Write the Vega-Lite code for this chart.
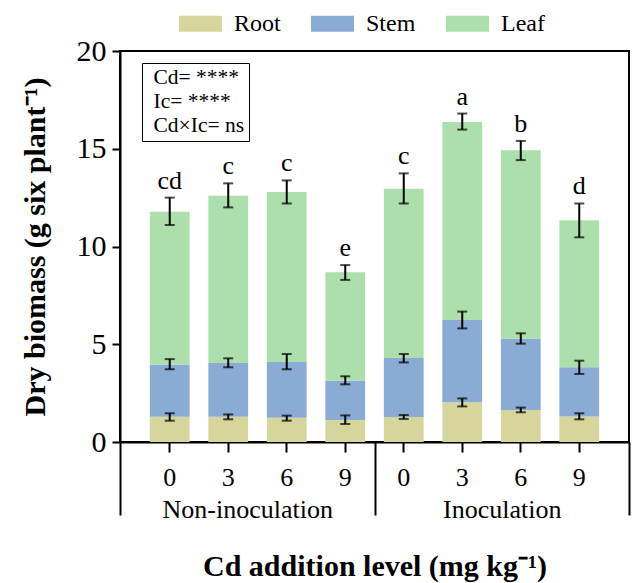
{
  "$schema": "https://vega.github.io/schema/vega-lite/v6.json",
  "autosize": {"type": "none"},
  "padding": {"left": 120, "top": 51, "right": 4, "bottom": 141},
  "width": 509,
  "height": 391,
  "config": {
    "font": "Liberation Serif",
    "view": {"stroke": "black", "strokeWidth": 2},
    "axis": {"domainColor": "black", "domainWidth": 2, "tickColor": "black", "tickWidth": 2, "labelColor": "black", "titleColor": "black", "labelFont": "Liberation Serif", "titleFont": "Liberation Serif", "grid": false},
    "legend": {"labelFont": "Liberation Serif", "labelColor": "black"}
  },
  "data": {"values": [
    {"bar": "N-0", "treatment": "Non-inoculation", "level": "0", "part": "Root", "rank": 1, "value": 1.29, "lo": 1.09, "hi": 1.47, "sig": ""},
    {"bar": "N-0", "treatment": "Non-inoculation", "level": "0", "part": "Stem", "rank": 2, "value": 2.68, "lo": 3.72, "hi": 4.24, "sig": ""},
    {"bar": "N-0", "treatment": "Non-inoculation", "level": "0", "part": "Leaf", "rank": 3, "value": 7.81, "lo": 11.1, "hi": 12.5, "sig": "cd"},
    {"bar": "N-3", "treatment": "Non-inoculation", "level": "3", "part": "Root", "rank": 1, "value": 1.29, "lo": 1.16, "hi": 1.41, "sig": ""},
    {"bar": "N-3", "treatment": "Non-inoculation", "level": "3", "part": "Stem", "rank": 2, "value": 2.75, "lo": 3.82, "hi": 4.28, "sig": ""},
    {"bar": "N-3", "treatment": "Non-inoculation", "level": "3", "part": "Leaf", "rank": 3, "value": 8.56, "lo": 12.0, "hi": 13.23, "sig": "c"},
    {"bar": "N-6", "treatment": "Non-inoculation", "level": "6", "part": "Root", "rank": 1, "value": 1.24, "lo": 1.09, "hi": 1.35, "sig": ""},
    {"bar": "N-6", "treatment": "Non-inoculation", "level": "6", "part": "Stem", "rank": 2, "value": 2.85, "lo": 3.72, "hi": 4.5, "sig": ""},
    {"bar": "N-6", "treatment": "Non-inoculation", "level": "6", "part": "Leaf", "rank": 3, "value": 8.7, "lo": 12.2, "hi": 13.38, "sig": "c"},
    {"bar": "N-9", "treatment": "Non-inoculation", "level": "9", "part": "Root", "rank": 1, "value": 1.13, "lo": 0.92, "hi": 1.36, "sig": ""},
    {"bar": "N-9", "treatment": "Non-inoculation", "level": "9", "part": "Stem", "rank": 2, "value": 2.01, "lo": 2.95, "hi": 3.36, "sig": ""},
    {"bar": "N-9", "treatment": "Non-inoculation", "level": "9", "part": "Leaf", "rank": 3, "value": 5.54, "lo": 8.29, "hi": 9.05, "sig": "e"},
    {"bar": "I-0", "treatment": "Inoculation", "level": "0", "part": "Root", "rank": 1, "value": 1.28, "lo": 1.18, "hi": 1.38, "sig": ""},
    {"bar": "I-0", "treatment": "Inoculation", "level": "0", "part": "Stem", "rank": 2, "value": 3.02, "lo": 4.07, "hi": 4.5, "sig": ""},
    {"bar": "I-0", "treatment": "Inoculation", "level": "0", "part": "Leaf", "rank": 3, "value": 8.66, "lo": 12.2, "hi": 13.74, "sig": "c"},
    {"bar": "I-3", "treatment": "Inoculation", "level": "3", "part": "Root", "rank": 1, "value": 2.03, "lo": 1.82, "hi": 2.23, "sig": ""},
    {"bar": "I-3", "treatment": "Inoculation", "level": "3", "part": "Stem", "rank": 2, "value": 4.21, "lo": 5.81, "hi": 6.67, "sig": ""},
    {"bar": "I-3", "treatment": "Inoculation", "level": "3", "part": "Leaf", "rank": 3, "value": 10.13, "lo": 15.98, "hi": 16.8, "sig": "a"},
    {"bar": "I-6", "treatment": "Inoculation", "level": "6", "part": "Root", "rank": 1, "value": 1.64, "lo": 1.52, "hi": 1.76, "sig": ""},
    {"bar": "I-6", "treatment": "Inoculation", "level": "6", "part": "Stem", "rank": 2, "value": 3.65, "lo": 5.03, "hi": 5.56, "sig": ""},
    {"bar": "I-6", "treatment": "Inoculation", "level": "6", "part": "Leaf", "rank": 3, "value": 9.63, "lo": 14.42, "hi": 15.4, "sig": "b"},
    {"bar": "I-9", "treatment": "Inoculation", "level": "9", "part": "Root", "rank": 1, "value": 1.31, "lo": 1.16, "hi": 1.47, "sig": ""},
    {"bar": "I-9", "treatment": "Inoculation", "level": "9", "part": "Stem", "rank": 2, "value": 2.51, "lo": 3.48, "hi": 4.16, "sig": ""},
    {"bar": "I-9", "treatment": "Inoculation", "level": "9", "part": "Leaf", "rank": 3, "value": 7.52, "lo": 10.47, "hi": 12.2, "sig": "d"}
  ]},
  "layer": [
    {
      "layer": [
        {
          "mark": {"type": "bar"},
          "encoding": {
            "x": {"field": "bar", "type": "nominal",
              "scale": {"domain": ["N-0", "N-3", "N-6", "N-9", "I-0", "I-3", "I-6", "I-9"], "paddingInner": 0.32, "paddingOuter": 0.51},
              "axis": {"orient": "bottom", "title": null, "labelExpr": "split(datum.value, '-')[1]", "labelAngle": 0, "labelFontSize": 26, "tickSize": 10, "labelPadding": 12}},
            "y": {"field": "value", "type": "quantitative", "stack": "zero",
              "scale": {"domain": [0, 20], "nice": false},
              "axis": {"values": [0, 5, 10, 15, 20], "tickSize": 8, "labelPadding": 6, "labelFontSize": 30, "title": "Dry biomass (g six plant⁻¹)", "titleFontSize": 30, "titleFontWeight": "bold", "titlePadding": 26}},
            "order": {"field": "rank", "type": "quantitative", "sort": "ascending"},
            "color": {"field": "part", "type": "nominal", "sort": ["Root", "Stem", "Leaf"],
              "scale": {"domain": ["Root", "Stem", "Leaf"], "range": ["#d6d69c", "#8aabd3", "#addfad"]},
              "legend": {"orient": "none", "legendX": 59, "legendY": -49, "direction": "horizontal", "title": null, "symbolType": "M-1,-0.37H1V0.37H-1Z", "symbolSize": 1849, "symbolStrokeWidth": 0, "labelFontSize": 24, "labelOffset": 12, "columnPadding": 30, "padding": 0}}
          }
        },
        {
          "mark": {"type": "rule", "color": "black", "strokeWidth": 2},
          "encoding": {
            "x": {"field": "bar", "type": "nominal"},
            "y": {"field": "lo", "type": "quantitative"},
            "y2": {"field": "hi"}
          }
        },
        {
          "mark": {"type": "tick", "color": "black", "thickness": 2, "size": 10, "orient": "horizontal"},
          "encoding": {
            "x": {"field": "bar", "type": "nominal"},
            "y": {"field": "lo", "type": "quantitative"}
          }
        },
        {
          "mark": {"type": "tick", "color": "black", "thickness": 2, "size": 10, "orient": "horizontal"},
          "encoding": {
            "x": {"field": "bar", "type": "nominal"},
            "y": {"field": "hi", "type": "quantitative"}
          }
        },
        {
          "transform": [{"filter": "datum.part === 'Leaf'"}],
          "mark": {"type": "text", "baseline": "alphabetic", "dy": -9, "fontSize": 26, "font": "Liberation Serif", "color": "black"},
          "encoding": {
            "x": {"field": "bar", "type": "nominal"},
            "y": {"field": "hi", "type": "quantitative"},
            "text": {"field": "sig"}
          }
        }
      ]
    },
    {
      "mark": {"type": "rule", "opacity": 0},
      "encoding": {
        "x": {"field": "treatment", "type": "nominal",
          "scale": {"domain": ["Non-inoculation", "Inoculation"], "paddingInner": 0, "paddingOuter": 0},
          "axis": {"orient": "bottom", "tickBand": "extent", "tickSize": 73, "domain": false, "labelFontSize": 26, "labelBaseline": "alphabetic", "labelPadding": 2, "labelAngle": 0, "title": "Cd addition level (mg kg⁻¹)", "titleFontSize": 30, "titleFontWeight": "bold", "titlePadding": 29}}
      }
    },
    {
      "data": {"values": [{"stat": "Cd= ****"}, {"stat": "Ic= ****"}, {"stat": "Cd×Ic= ns"}]},
      "mark": {"type": "point", "opacity": 0},
      "encoding": {
        "shape": {"field": "stat", "type": "nominal",
          "scale": {"domain": ["Cd= ****", "Ic= ****", "Cd×Ic= ns"]},
          "legend": {"orient": "none", "legendX": 22, "legendY": 12, "title": null, "strokeColor": "black", "padding": 4, "symbolSize": 0, "symbolOpacity": 0, "symbolStrokeWidth": 0, "labelOffset": -14, "labelFontSize": 21.5, "rowPadding": 1}}
      }
    }
  ],
  "resolve": {"scale": {"x": "independent"}}
}
